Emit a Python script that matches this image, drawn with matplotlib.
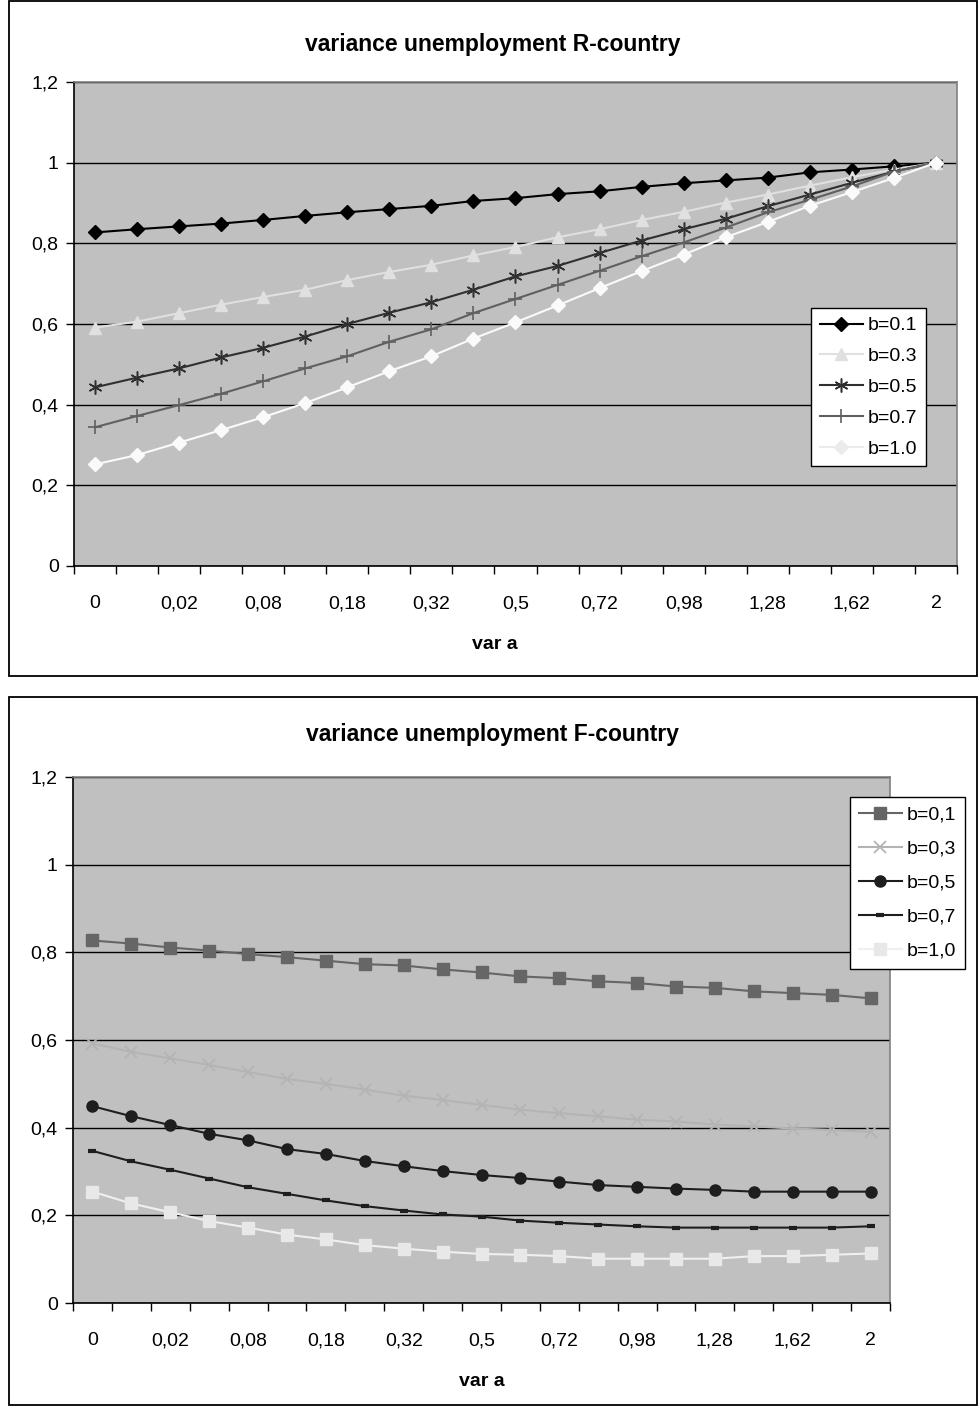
import matplotlib
matplotlib.use('Agg')
import matplotlib.pyplot as plt
from matplotlib.patches import Rectangle
import numpy as np

plt.rcParams['font.family'] = ['Liberation Sans', 'DejaVu Sans']

# ---- data ----
var_a = ['0', '0,005', '0,02', '0,045', '0,08', '0,125', '0,18', '0,245', '0,32', '0,405',
         '0,5', '0,605', '0,72', '0,845', '0,98', '1,125', '1,28', '1,445', '1,62', '1,805', '2']

r_labels = ['b=0.1', 'b=0.3', 'b=0.5', 'b=0.7', 'b=1.0']
r_b01 = [0.827, 0.835, 0.842, 0.849, 0.858, 0.868, 0.877, 0.885, 0.893, 0.905, 0.912,
         0.922, 0.929, 0.940, 0.949, 0.956, 0.963, 0.976, 0.983, 0.991, 1.0]
r_b03 = [0.591, 0.606, 0.627, 0.648, 0.667, 0.685, 0.709, 0.729, 0.747, 0.770, 0.791,
         0.815, 0.835, 0.858, 0.878, 0.901, 0.921, 0.943, 0.964, 0.983, 1.0]
r_b05 = [0.443, 0.467, 0.490, 0.517, 0.541, 0.569, 0.600, 0.628, 0.654, 0.685, 0.718,
         0.744, 0.776, 0.807, 0.835, 0.861, 0.892, 0.921, 0.950, 0.978, 1.0]
r_b07 = [0.344, 0.372, 0.399, 0.427, 0.458, 0.490, 0.520, 0.556, 0.587, 0.627, 0.662,
         0.697, 0.732, 0.768, 0.802, 0.839, 0.877, 0.908, 0.941, 0.978, 1.0]
r_b10 = [0.252, 0.275, 0.306, 0.337, 0.369, 0.404, 0.443, 0.483, 0.520, 0.564, 0.604,
         0.646, 0.689, 0.731, 0.772, 0.815, 0.853, 0.893, 0.927, 0.962, 1.0]

f_labels = ['b=0,1', 'b=0,3', 'b=0,5', 'b=0,7', 'b=1,0']
f_b01 = [0.827, 0.820, 0.811, 0.804, 0.796, 0.789, 0.781, 0.773, 0.770, 0.761, 0.754,
         0.745, 0.741, 0.734, 0.730, 0.722, 0.719, 0.711, 0.707, 0.703, 0.695]
f_b03 = [0.592, 0.573, 0.558, 0.543, 0.527, 0.511, 0.500, 0.487, 0.473, 0.463, 0.452,
         0.441, 0.433, 0.426, 0.418, 0.414, 0.407, 0.403, 0.398, 0.395, 0.390]
f_b05 = [0.449, 0.426, 0.406, 0.386, 0.371, 0.351, 0.340, 0.324, 0.312, 0.301, 0.292,
         0.285, 0.277, 0.269, 0.265, 0.261, 0.258, 0.254, 0.254, 0.254, 0.254]
f_b07 = [0.347, 0.323, 0.304, 0.284, 0.264, 0.249, 0.234, 0.221, 0.211, 0.202, 0.197,
         0.188, 0.183, 0.179, 0.175, 0.172, 0.172, 0.172, 0.172, 0.172, 0.175]
f_b10 = [0.254, 0.227, 0.207, 0.187, 0.172, 0.156, 0.145, 0.132, 0.124, 0.117, 0.112,
         0.110, 0.107, 0.101, 0.101, 0.101, 0.101, 0.107, 0.107, 0.110, 0.113]

W, H = 979, 1408
fig = plt.figure(figsize=(W / 100, H / 100), dpi=100, facecolor='white')


def px_rect(l, t, r, b):
    return [l / W, 1 - b / H, (r - l) / W, (b - t) / H]


def frame(l, t, r, b):
    fig.patches.append(Rectangle((l / W, 1 - b / H), (r - l) / W, (b - t) / H,
                                 transform=fig.transFigure, fill=False,
                                 edgecolor='black', linewidth=1.3))


def style_axes(ax, border):
    ax.set_facecolor('#C0C0C0')
    ax.set_ylim(0, 1.2)
    ax.set_xlim(-0.5, 20.5)
    ax.set_yticks(np.arange(0, 1.21, 0.2))
    ax.set_yticklabels(['0', '0,2', '0,4', '0,6', '0,8', '1', '1,2'], fontsize=14)
    ax.yaxis.grid(True, color='black', linewidth=1.0)
    ax.set_axisbelow(True)
    ax.set_xticks(np.arange(-0.5, 21, 1))
    ax.set_xticklabels([])
    ax.set_xticks(np.arange(0, 21, 2), minor=True)
    ax.set_xticklabels([var_a[i] for i in range(0, 21, 2)], minor=True, fontsize=14)
    ax.tick_params(axis='x', which='major', length=6, width=1, direction='out')
    ax.tick_params(axis='x', which='minor', length=0, pad=21)
    ax.tick_params(axis='y', length=6, width=1, pad=5)
    ax.spines['left'].set_color('black')
    ax.spines['bottom'].set_color('black')
    ax.spines['top'].set_color(border)
    ax.spines['right'].set_color(border)
    for s in ax.spines.values():
        s.set_linewidth(1.2)


legend_opts = dict(loc='upper left', fontsize=14, frameon=True, fancybox=False, framealpha=1,
                   edgecolor='black', handlelength=2.2, borderpad=0.45, handletextpad=0.25,
                   borderaxespad=0)

# ----- R-country -----
frame(9, 1, 977, 676)
ax1 = fig.add_axes(px_rect(74, 82, 957, 566))
style_axes(ax1, '#808080')
x = np.arange(len(var_a))
ax1.plot(x, r_b01, color='black', lw=1.5, marker='D', ms=7, mfc='black', mec='black', label=r_labels[0])
ax1.plot(x, r_b03, color='#E0E0E0', lw=1.5, marker='^', ms=9, mfc='#E0E0E0', mec='#E0E0E0', label=r_labels[1])
ax1.plot(x, r_b05, color='#303030', lw=1.5, marker=(6, 2, 0), ms=10, mew=1.1, mec='#303030', label=r_labels[2])
ax1.plot(x, r_b07, color='#606060', lw=1.5, marker='+', ms=10, mew=1.2, mec='#606060', label=r_labels[3])
ax1.plot(x, r_b10, color='#FAFAFA', lw=1.5, marker='D', ms=7, mfc='#FAFAFA', mec='#FAFAFA', label=r_labels[4])
fig.text(493 / W, 1 - 44 / H, 'variance unemployment R-country', ha='center', va='center',
         fontsize=16.5, fontweight='bold')
fig.text(495 / W, 1 - 645 / H, 'var a', ha='center', va='center', fontsize=14, fontweight='bold')
leg1 = ax1.legend(bbox_to_anchor=(811 / W, 1 - 308 / H), bbox_transform=fig.transFigure,
                  labelspacing=0.68, **legend_opts)
leg1.get_frame().set_linewidth(1.0)
leg1.get_lines()[4].set_color('#EBEBEB')
leg1.get_lines()[4].set_markerfacecolor('#EBEBEB')
leg1.get_lines()[4].set_markeredgecolor('#EBEBEB')

# ----- F-country -----
frame(9, 697, 977, 1405)
ax2 = fig.add_axes(px_rect(73, 777, 890, 1303))
style_axes(ax2, '#808080')
ax2.plot(x, f_b01, color='#666666', lw=1.5, marker='s', ms=8, mfc='#666666', mec='#666666', label=f_labels[0])
ax2.plot(x, f_b03, color='#B4B4B4', lw=1.5, marker='x', ms=9, mew=1.3, mec='#B4B4B4', label=f_labels[1])
ax2.plot(x, f_b05, color='#1E1E1E', lw=1.5, marker='o', ms=8, mfc='#1E1E1E', mec='#1E1E1E', label=f_labels[2])
ax2.plot(x, f_b07, color='#1E1E1E', lw=1.5, marker='_', ms=6, mew=3, mec='#1E1E1E', label=f_labels[3])
ax2.plot(x, f_b10, color='#F0F0F0', lw=1.5, marker='s', ms=8, mfc='#E8E8E8', mec='#E8E8E8', label=f_labels[4])
fig.text(493 / W, 1 - 735 / H, 'variance unemployment F-country', ha='center', va='center',
         fontsize=16.5, fontweight='bold')
fig.text(482 / W, 1 - 1382 / H, 'var a', ha='center', va='center', fontsize=14, fontweight='bold')
leg2 = ax2.legend(bbox_to_anchor=(850 / W, 1 - 797 / H), bbox_transform=fig.transFigure,
                  labelspacing=0.85, **legend_opts)
leg2.get_frame().set_linewidth(1.0)

fig.savefig('out.png', dpi=100, facecolor='white')
